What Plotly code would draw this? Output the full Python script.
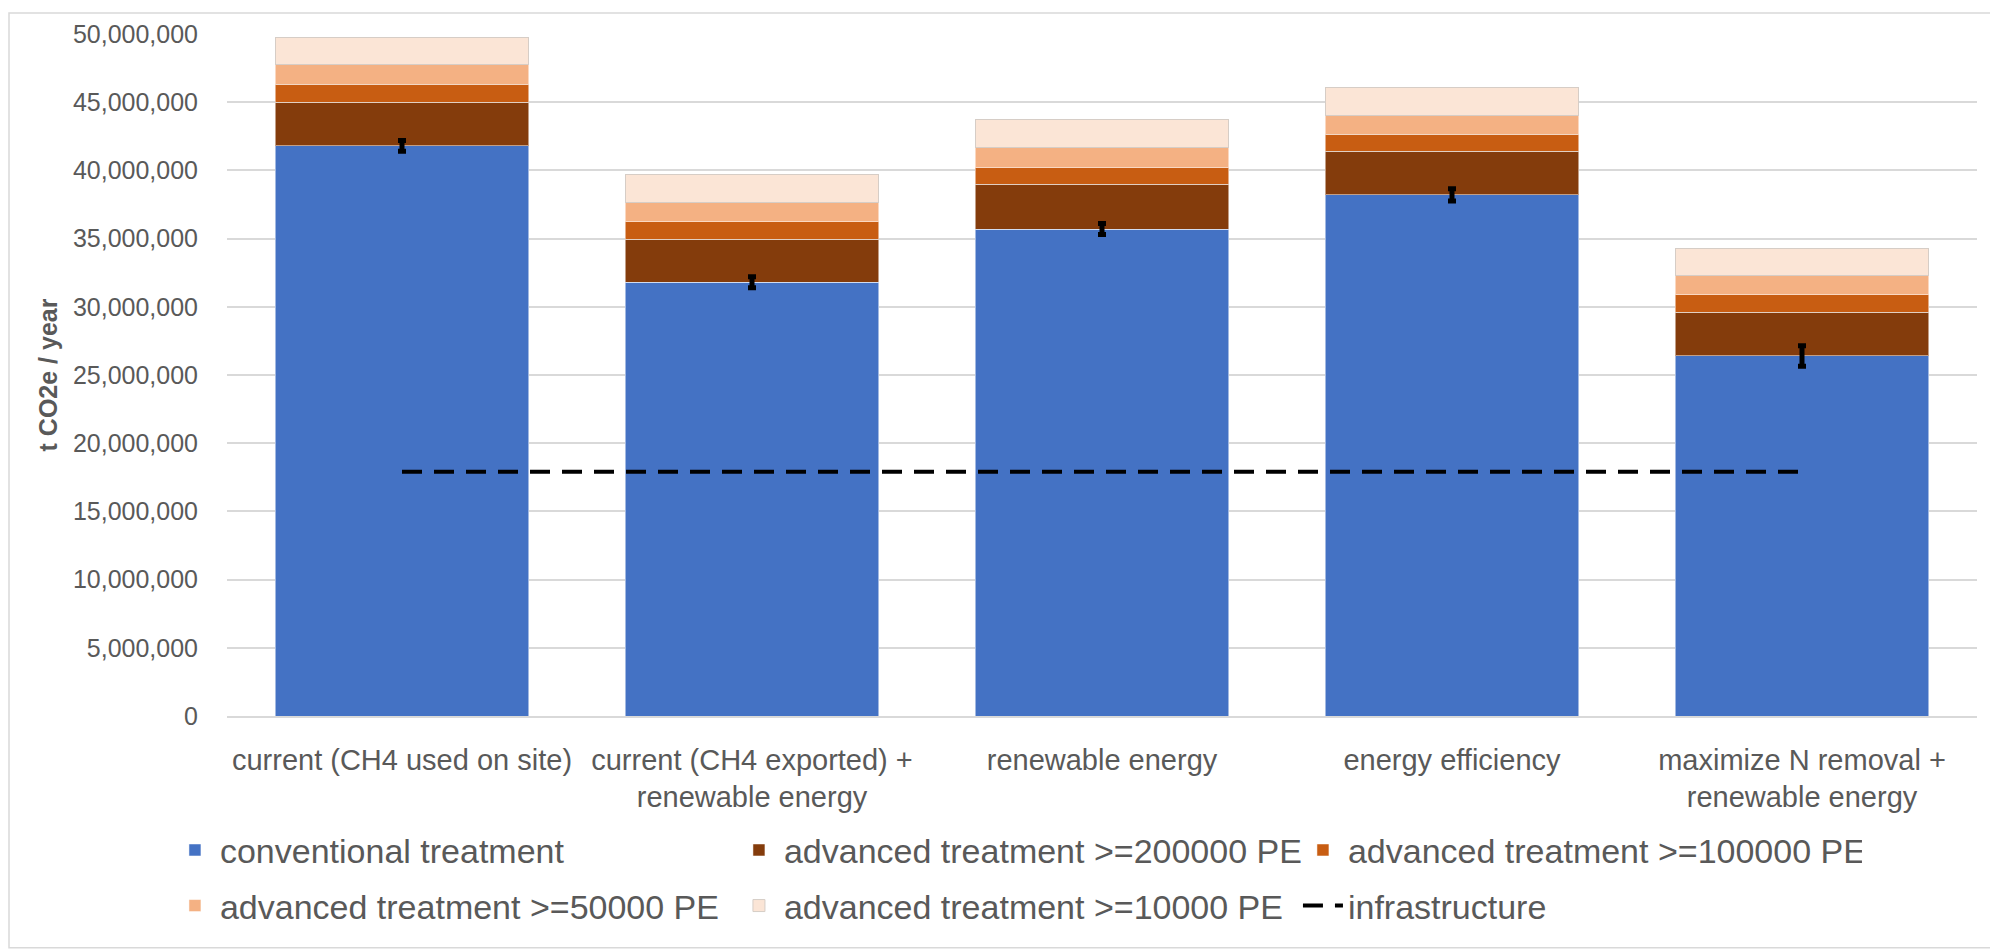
import plotly.graph_objects as go

categories = [
    "current (CH4 used on site)",
    "current (CH4 exported) +<br>renewable energy",
    "renewable energy",
    "energy efficiency",
    "maximize N removal +<br>renewable energy",
]

conventional = [41.8e6, 31.8e6, 35.7e6, 38.2e6, 26.4e6]
adv_200k = [3.2e6, 3.15e6, 3.3e6, 3.2e6, 3.2e6]
adv_100k = [1.3e6, 1.3e6, 1.2e6, 1.25e6, 1.3e6]
adv_50k = [1.45e6, 1.43e6, 1.5e6, 1.4e6, 1.4e6]
adv_10k = [2.0e6, 2.0e6, 2.0e6, 2.05e6, 2.0e6]
conv_error = [0.4e6, 0.4e6, 0.4e6, 0.45e6, 0.75e6]
infrastructure = [17.9e6, 17.9e6, 17.9e6, 17.9e6, 17.9e6]

series = [
    ("conventional treatment", conventional, "#4472C4", "rgba(255,255,255,0.5)", "legend"),
    ("advanced treatment >=200000 PE", adv_200k, "#843C0C", "rgba(255,255,255,0.5)", "legend"),
    ("advanced treatment >=100000 PE", adv_100k, "#C85D12", "rgba(255,255,255,0.5)", "legend"),
    ("advanced treatment >=50000 PE", adv_50k, "#F4B183", "rgba(255,255,255,0.5)", "legend2"),
    ("advanced treatment >=10000 PE", adv_10k, "#FBE5D6", "#d6cdc6", "legend2"),
]

FONT = "Liberation Sans"
TXT = "#595959"

W, H = 1990, 943
L, R, T, B = 219, 21, 22, 235
plot_h = H - T - B

fig = go.Figure()
for name, vals, col, lcol, leg in series:
    fig.add_trace(go.Bar(
        x=categories, y=vals, name=name, legend=leg,
        marker=dict(color=col, line=dict(color=lcol, width=1)),
    ))

fig.add_trace(go.Scatter(
    x=categories, y=conventional, mode="markers",
    marker=dict(size=1, color="rgba(0,0,0,0)"),
    error_y=dict(type="data", array=conv_error, visible=True,
                 color="black", thickness=5, width=4),
    showlegend=False, hoverinfo="skip",
))

fig.add_trace(go.Scatter(
    x=categories, y=infrastructure, mode="lines", name="infrastructure",
    legend="legend2",
    line=dict(color="black", width=4, dash="20px,12px"),
))

leg_common = dict(
    orientation="h", traceorder="normal",
    xanchor="left", yanchor="top",
    font=dict(size=34, family=FONT, color=TXT),
    entrywidth=509, entrywidthmode="pixels",
    itemwidth=40, bgcolor="rgba(0,0,0,0)",
)

fig.update_layout(
    width=W, height=H,
    margin=dict(l=L, r=R, t=T, b=B),
    barmode="stack", bargap=0.277,
    paper_bgcolor="white", plot_bgcolor="white",
    font=dict(family=FONT, color=TXT),
    showlegend=True,
    legend=dict(x=-0.0326, y=-0.1545, **leg_common),
    legend2=dict(x=-0.0326, y=-0.236, **leg_common),
    shapes=[dict(
        type="rect", xref="paper", yref="paper",
        x0=(1 - L) / (W - L - R), x1=(W - 2 - L) / (W - L - R),
        y0=(T + plot_h - (H - 2)) / plot_h, y1=(T + plot_h - 1) / plot_h,
        line=dict(color="#d9d9d9", width=1.5), fillcolor="rgba(0,0,0,0)",
        layer="below",
    )],
)

fig.update_xaxes(
    showline=True, linecolor="#d9d9d9", linewidth=1.5,
    ticks="", ticklabelstandoff=17,
    tickfont=dict(size=29, family=FONT, color=TXT),
    showgrid=False,
)
fig.update_yaxes(
    range=[0, 50e6], dtick=5e6, tickformat=",d",
    showgrid=True, gridcolor="#d9d9d9", gridwidth=1.5,
    zeroline=False, showline=False, ticks="", ticklabelstandoff=28,
    tickfont=dict(size=25, family=FONT, color=TXT),
    title=dict(text="<b>t CO2e / year</b>", font=dict(size=25, family=FONT, color=TXT), standoff=8),
)

fig.write_html("out.html")
